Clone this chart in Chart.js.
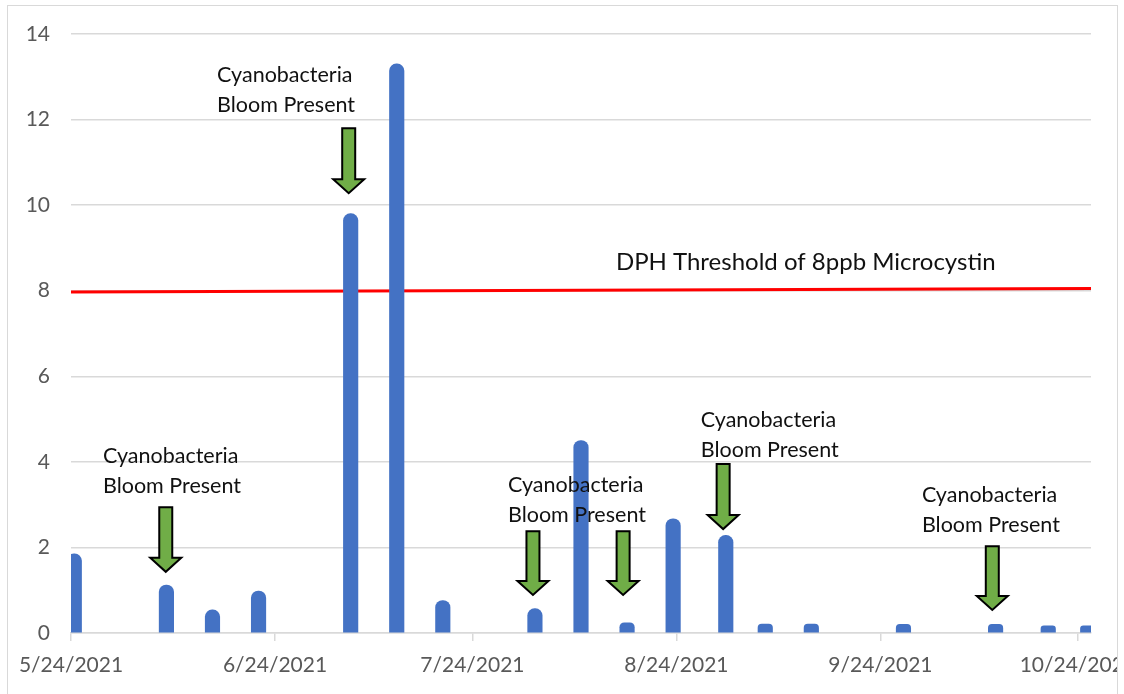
<!DOCTYPE html>
<html>
<head>
<meta charset="utf-8">
<script src="https://cdn.jsdelivr.net/npm/chart.js@4.4.1/dist/chart.umd.min.js"></script>
<style>
  html, body { margin: 0; padding: 0; background: #fff; }
</style>
</head>
<body>
<canvas id="myChart" width="1124" height="694"></canvas>
<script>
// weekly microcystin samples (ppb)
const sampleDates = ['5/24/2021', '6/7/2021', '6/14/2021', '6/21/2021', '7/5/2021', '7/12/2021',
  '7/19/2021', '8/2/2021', '8/9/2021', '8/16/2021', '8/23/2021', '8/31/2021', '9/6/2021',
  '9/13/2021', '9/27/2021', '10/11/2021', '10/19/2021', '10/25/2021'];
const microcystin = [1.85, 1.12, 0.54, 0.98, 9.8, 13.3, 0.76, 0.57, 4.5, 0.24, 2.67, 2.28,
  0.21, 0.21, 0.2, 0.2, 0.17, 0.17];
const tickDates = ['5/24/2021', '6/24/2021', '7/24/2021', '8/24/2021', '9/24/2021', '10/24/2021'];
const yTicks = [0, 2, 4, 6, 8, 10, 12, 14];
const thresholdEnds = [7.97, 8.05];   // red line, left end / right end
const lastDay = 155;

const startDate = new Date(2021, 4, 24);
const dayOf = s => {
  const [m, d, y] = s.split('/').map(Number);
  return Math.round((new Date(y, m - 1, d) - startDate) / 86400000);
};

// arrows: x in days, top and tip in ppb
const arrows = [
  { x: 14.4, top: 2.94, tip: 1.43 },
  { x: 42.2, top: 11.8, tip: 10.28 },
  { x: 70.2, top: 2.38, tip: 0.89 },
  { x: 83.9, top: 2.38, tip: 0.89 },
  { x: 99.1, top: 3.95, tip: 2.43 },
  { x: 140.0, top: 2.03, tip: 0.54 }
];
// text blocks: left x in days, baseline of first line in ppb
const notes = [
  { x: 4.86, y: 3.97 },
  { x: 22.2, y: 12.87 },
  { x: 66.4, y: 3.29 },
  { x: 95.7, y: 4.81 },
  { x: 129.3, y: 3.06 }
];

const annotate = {
  id: 'annotate',
  beforeDraw(chart) {
    const c = chart.ctx;
    c.save();
    c.fillStyle = '#fff';
    c.fillRect(0, 0, chart.width, chart.height);
    c.restore();
  },
  afterDatasetsDraw(chart) {
    const c = chart.ctx, xs = chart.scales.x, ys = chart.scales.y;
    c.save();
    arrows.forEach(a => {
      const x = xs.getPixelForValue(a.x), y0 = ys.getPixelForValue(a.top), y1 = ys.getPixelForValue(a.tip);
      const sh = 6.5, hh = 15.5, hl = 14;
      c.beginPath();
      c.moveTo(x - sh, y0);
      c.lineTo(x + sh, y0);
      c.lineTo(x + sh, y1 - hl);
      c.lineTo(x + hh, y1 - hl);
      c.lineTo(x, y1);
      c.lineTo(x - hh, y1 - hl);
      c.lineTo(x - sh, y1 - hl);
      c.closePath();
      c.fillStyle = '#70AD47';
      c.fill();
      c.lineWidth = 2;
      c.strokeStyle = '#000';
      c.stroke();
    });
    c.fillStyle = '#111';
    c.textAlign = 'left';
    c.textBaseline = 'alphabetic';
    c.font = '21.5px Lato';
    notes.forEach(n => {
      const x = xs.getPixelForValue(n.x), y = ys.getPixelForValue(n.y);
      c.fillText('Cyanobacteria', x, y);
      c.fillText('Bloom Present', x, y + 29.5);
    });
    c.font = '24px Lato';
    c.fillText('DPH Threshold of 8ppb Microcystin', xs.getPixelForValue(82.8), ys.getPixelForValue(8.48));
    c.restore();
  },
  afterDraw(chart) {
    const c = chart.ctx;
    c.save();
    c.fillStyle = '#fff';
    c.fillRect(1118, 0, 10, chart.height);
    c.strokeStyle = '#d9d9d9';
    c.lineWidth = 1;
    c.strokeRect(7.5, 5.5, 1110, 700);
    c.restore();
  }
};

let myChart = document.getElementById('myChart').getContext('2d');
new Chart(myChart, {
  type: 'bar',
  data: {
    datasets: [{
      type: 'line',
      data: [{ x: 0, y: thresholdEnds[0] }, { x: lastDay, y: thresholdEnds[1] }],
      borderColor: '#ff0000',
      borderWidth: 3,
      pointRadius: 0,
      order: 2
    }, {
      type: 'bar',
      // Excel date axis puts each column in the middle of its day
      data: sampleDates.map((d, i) => ({ x: dayOf(d) + 0.5, y: microcystin[i] })),
      backgroundColor: '#4472C4',
      barThickness: 14.5,
      borderRadius: { topLeft: 7.5, topRight: 7.5 },
      borderSkipped: 'start',
      order: 1
    }]
  },
  options: {
    responsive: false,
    animation: false,
    layout: { padding: { left: 0, top: 34, right: 33, bottom: 0 } },
    plugins: { legend: { display: false }, tooltip: { enabled: false } },
    scales: {
      x: {
        type: 'linear',
        min: 0,
        max: lastDay,
        offset: false,
        afterBuildTicks: s => { s.ticks = tickDates.map(d => ({ value: dayOf(d) })); },
        ticks: {
          autoSkip: false,
          maxRotation: 0,
          color: '#595959',
          font: { family: 'Lato', size: 21 },
          padding: 12,
          callback: v => tickDates.find(d => dayOf(d) === v) || ''
        },
        grid: { offset: false, drawOnChartArea: false, tickLength: 8, color: '#d9d9d9', lineWidth: 1.5 },
        border: { color: '#d9d9d9', width: 1.5 },
        afterFit: s => { s.height = 61; s.paddingLeft = 0; s.paddingRight = 0; }
      },
      y: {
        min: 0,
        max: 14,
        afterBuildTicks: s => { s.ticks = yTicks.map(v => ({ value: v })); },
        ticks: { color: '#595959', font: { family: 'Lato', size: 21 }, padding: 21 },
        grid: { color: '#d9d9d9', lineWidth: 1.5, drawTicks: false },
        border: { display: false },
        afterFit: s => { s.width = 71; }
      }
    }
  },
  plugins: [annotate]
});
</script>
</body>
</html>
